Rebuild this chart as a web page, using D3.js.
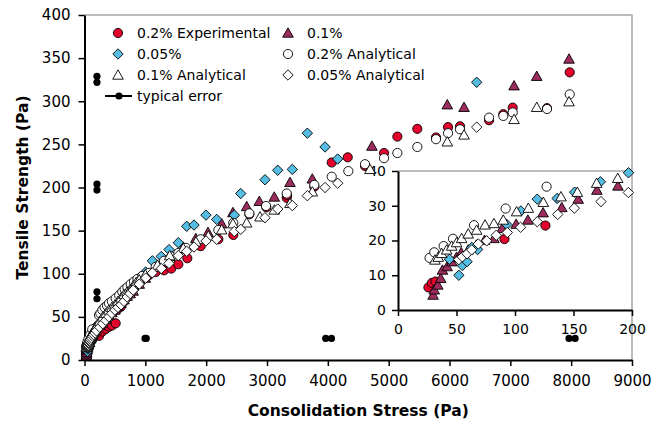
<!DOCTYPE html>
<html><head><meta charset="utf-8">
<script src="https://cdn.jsdelivr.net/npm/d3@7"></script>
<style>body{margin:0;background:#fff}svg{display:block}text{font-family:"DejaVu Sans",Verdana,sans-serif}</style>
</head><body><svg id="c" width="667" height="427"></svg>
<script>
// ---- data ----
const exp02 = [[26,6.5],[29,7.8],[32,8.2],[91,20.4],[126,24.3],[240,28],[293,33],[350,36],[403,38.6],[450,40],[512,42.5],[539,58.5],[600,62],[650,68],[704,73],[760,78],[814,83],[870,88],[950,93],[1060,98.5],[1170,102],[1307,104],[1427,106],[1542,111],[1690,118],[1910,132],[2200,140],[2446,145],[2710,169],[2989,177],[3324,188],[3330,191],[3778,201],[4064,229],[4327,235],[4611,225],[4924,240],[5143,259],[5471,268],[5778,258],[5976,270],[6173,271],[6650,278],[6885,285],[7039,292.6],[7603,292],[7976,333.5]];
const exp01 = [[30,4.3],[31,5.8],[34,7.2],[36.5,9.1],[38,11.5],[42,12.5],[46,13.9],[50,15.2],[54,16.5],[60,17.3],[67,18.7],[74,20.1],[82,20.6],[89,23.5],[101,24.7],[111,25.9],[124,28],[140,29.5],[154,31.9],[170,34.5],[188,35.7],[250,40],[300,43],[350,47],[400,52],[450,55],[500,58],[550,62],[600,66],[650,70],[700,74],[750,77],[800,80],[900,88],[1000,95],[1200,108],[1400,120],[1624,131],[1830,141],[2030,148],[2255,158],[2440,171],[2666,178],[2874,184],[3120,189],[3378,206],[3745,210],[4725,248],[5964,296],[6239,293],[7061,318],[7434,329],[7965,349]];
const exp005 = [[44,14.6],[52,10],[55,12.8],[59,13.9],[63,18],[68,17.4],[93,24.6],[105,28.5],[119,31.9],[136,32.1],[151,33.9],[173,36.9],[197,39.5],[250,40],[300,44],[350,49],[400,54],[450,58],[500,62],[550,66],[600,70],[650,75],[700,79],[800,87],[900,95],[1006,102],[1115,115],[1262,120],[1389,128],[1542,136],[1680,155],[1800,156.5],[1997,168],[2173,163],[2463,168],[2568,193],[2967,209],[3176,220],[3416,221],[3663,263],[3954,247],[4162,233],[6447,322]];
const ana02 = [[27,15],[31,16.6],[39,18.4],[47,20.5],[65,24.4],[92,29.2],[127,35.5],[238,52],[260,54],[293,58],[330,61],[370,63],[403,65.7],[450,68],[512,71.5],[570,75],[621,79],[660,82],[704,84.3],[760,88],[814,90.8],[870,94],[950,97.4],[1060,101],[1170,108],[1307,115],[1427,120],[1542,124],[1669,130],[1910,140],[2200,150.7],[2446,159],[2710,170],[2984,178.6],[3324,193],[3778,203],[4064,212.5],[4337,219],[4611,227],[4924,234],[5143,240],[5471,247],[5778,256],[5976,263],[6173,267.5],[6650,281],[6885,283],[7039,287],[7603,291],[7976,308]];
const ana01 = [[31.6,14.4],[34.4,15.2],[37.3,16.3],[41.6,17.3],[45.9,18.4],[50.1,19.4],[54.4,20.6],[60,21.9],[67.2,23],[74.4,24.5],[82,24.9],[90,25.9],[101.4,28.3],[111.4,29.3],[124.2,31],[139.3,32.6],[153.3,33.9],[169.8,36.5],[187.8,37.9],[250,45],[300,50],[350,54],[400,58],[450,61],[500,64],[550,68],[600,72],[650,76],[700,79],[750,82],[800,86],[850,90],[900,93],[1000,99],[1200,110],[1400,121],[1624,129.5],[1833,137],[2035,143.8],[2255,151],[2440,158],[2666,159],[2885,166],[3120,174],[3378,181.6],[3745,195],[4693,221],[5964,253],[6239,261],[7061,279],[7434,293],[7965,299.5]];
const ana005 = [[52,14.5],[55,15.3],[59,16.2],[63,17.3],[68.6,19],[75.8,19.9],[84,21.5],[93.4,22.3],[104.8,23.8],[119,25.4],[136.5,27.5],[150.7,29.3],[173.5,31.2],[196.9,33.8],[250,38],[300,42],[350,46],[400,50],[450,54],[500,58],[550,61],[600,64],[650,68],[700,73],[750,77],[800,81],[900,88],[1006,95],[1115,101],[1262,106],[1389,112],[1542,121],[1680,126],[1800,131],[1997,138],[2173,140],[2463,149],[2568,151.5],[2967,165],[3176,175],[3416,179],[3663,190.5],[3954,200],[4162,205],[6447,270]];
// typical error segments: [x1, y1, x2, y2]
const typicalError = [[205,322,205,329],[205,197,205,204],[205,71,205,79],[995,25,1015,25],[3965,25,4060,25],[7965,25,8065,25]];
const xTicks = [0,1000,2000,3000,4000,5000,6000,7000,8000,9000];
const yTicks = [0,50,100,150,200,250,300,350,400];
const xTicksInset = [0,50,100,150,200];
const yTicksInset = [0,10,20,30,40];
const seriesNames = ["0.2% Experimental","0.1%","0.05%","0.2% Analytical","0.1% Analytical","0.05% Analytical","typical error"];

// ---- layout ----
const svg = d3.select("#c");
const x = d3.scaleLinear().domain([0,9000]).range([84.5,632]);
const y = d3.scaleLinear().domain([0,400]).range([360,15]);
const xi = d3.scaleLinear().domain([0,200]).range([398,632]);
const yi = d3.scaleLinear().domain([0,40]).range([310,171]);

const series = [
  {data:exp02, shape:"circle", fill:"#e3022c"},
  {data:exp01, shape:"triangle", fill:"#9c2c5e"},
  {data:exp005, shape:"diamond", fill:"#55bde2"},
  {data:ana02, shape:"circle", fill:"#ffffff"},
  {data:ana01, shape:"triangle", fill:"#ffffff"},
  {data:ana005, shape:"diamond", fill:"#ffffff"}
];
const symPath = {
  circle: "M4.6,0A4.6,4.6 0 1,1 -4.6,0A4.6,4.6 0 1,1 4.6,0Z",
  triangle: "M0,-5.2L5.3,4.2L-5.3,4.2Z",
  diamond: "M0,-5.2L5.2,0L0,5.2L-5.2,0Z"
};

// frame (grey top/right)
svg.append("path").attr("d",`M${x(0)},${y(400)}H${x(9000)}V${y(0)}`).attr("fill","none").attr("stroke","#a6a6a6").attr("stroke-width",1.5);

function styleAxis(g){
  g.selectAll(".domain").attr("stroke","#000").attr("stroke-width",2);
  g.selectAll(".tick line").attr("stroke","#000").attr("stroke-width",1.5);
  g.selectAll(".tick text").attr("fill","#000").attr("font-family","DejaVu Sans, Verdana, sans-serif");
}
const gx = svg.append("g").attr("transform",`translate(0,${y(0)})`)
  .call(d3.axisBottom(x).tickValues(xTicks).tickSize(6).tickSizeOuter(0).tickPadding(9).tickFormat(d3.format("d")));
gx.selectAll("text").attr("font-size",15);
styleAxis(gx);
const gy = svg.append("g").attr("transform",`translate(${x(0)},0)`)
  .call(d3.axisLeft(y).tickValues(yTicks).tickSize(6).tickSizeOuter(0).tickPadding(8).tickFormat(d3.format("d")));
gy.selectAll("text").attr("font-size",15);
styleAxis(gy);

// inset frame
svg.append("path").attr("d",`M${xi(0)},${yi(40)}H${xi(200)}`).attr("fill","none").attr("stroke","#a6a6a6").attr("stroke-width",1.5);
const gxi = svg.append("g").attr("transform",`translate(0,${yi(0)})`)
  .call(d3.axisBottom(xi).tickValues(xTicksInset).tickSize(6).tickSizeOuter(0).tickPadding(8));
gxi.selectAll("text").attr("font-size",14);
styleAxis(gxi);
const gyi = svg.append("g").attr("transform",`translate(${xi(0)},0)`)
  .call(d3.axisLeft(yi).tickValues(yTicksInset).tickSize(6).tickSizeOuter(0).tickPadding(6));
gyi.selectAll("text").attr("font-size",14);
styleAxis(gyi);

// axis titles
svg.append("text").attr("x",(x(0)+x(9000))/2).attr("y",416).attr("text-anchor","middle")
  .attr("font-size",15.5).attr("font-weight","bold").text("Consolidation Stress (Pa)");
svg.append("text").attr("transform",`translate(28,${(y(0)+y(400))/2}) rotate(-90)`).attr("text-anchor","middle")
  .attr("font-size",15.5).attr("font-weight","bold").text("Tensile Strength (Pa)");

// main plot markers
series.forEach(s=>{
  svg.append("g").selectAll("path").data(s.data).join("path")
    .attr("d",symPath[s.shape]).attr("transform",d=>`translate(${x(d[0])},${y(d[1])})`)
    .attr("fill",s.fill).attr("stroke","#000").attr("stroke-width",0.9);
});
// typical error
const ge = svg.append("g");
typicalError.forEach(e=>{
  ge.append("line").attr("x1",x(e[0])).attr("y1",y(e[1])).attr("x2",x(e[2])).attr("y2",y(e[3])).attr("stroke","#000").attr("stroke-width",2);
  ge.append("circle").attr("cx",x(e[0])).attr("cy",y(e[1])).attr("r",3.6).attr("fill","#000");
  ge.append("circle").attr("cx",x(e[2])).attr("cy",y(e[3])).attr("r",3.6).attr("fill","#000");
});

// inset markers
series.forEach(s=>{
  svg.append("g").selectAll("path").data(s.data.filter(d=>d[0]<=200&&d[1]<=40)).join("path")
    .attr("d",symPath[s.shape]).attr("transform",d=>`translate(${xi(d[0])},${yi(d[1])})`)
    .attr("fill",s.fill).attr("stroke","#000").attr("stroke-width",0.9);
});

// legend
const legPos = [[118,33],[288,33],[118,54],[288,54],[118,75],[288,75],[118,96]];
const lg = svg.append("g");
seriesNames.forEach((name,i)=>{
  const [lx,ly] = legPos[i];
  if(i<6){
    lg.append("path").attr("d",symPath[series[i].shape]).attr("transform",`translate(${lx},${ly})`)
      .attr("fill",series[i].fill).attr("stroke","#000").attr("stroke-width",0.9);
  } else {
    lg.append("line").attr("x1",lx-13).attr("x2",lx+14).attr("y1",ly).attr("y2",ly).attr("stroke","#000").attr("stroke-width",2);
    lg.append("circle").attr("cx",lx+1).attr("cy",ly).attr("r",3.6).attr("fill","#000");
  }
  lg.append("text").attr("x",lx+19).attr("y",ly+5).attr("font-size",14).text(name);
});
</script></body></html>
